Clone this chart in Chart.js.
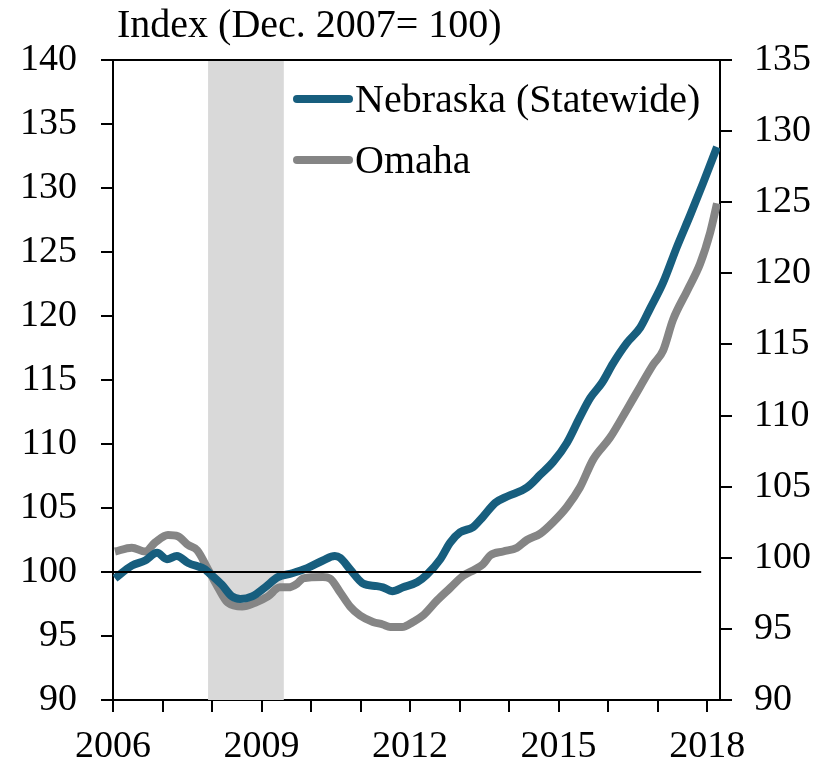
<!DOCTYPE html>
<html>
<head>
<meta charset="utf-8">
<script src="https://cdn.jsdelivr.net/npm/chart.js@4.4.1/dist/chart.umd.min.js"></script>
<style>
  html, body { margin: 0; padding: 0; background: #fff; }
  #wrap { width: 827px; height: 766px; }
</style>
</head>
<body>
<div id="wrap"><canvas id="house_chart" width="827" height="766"></canvas></div>
<script>
// data (decimal year, index Dec. 2007 = 100)
var nebraskaYears = [2006.04, 2006.38, 2006.65, 2006.89, 2007.09, 2007.29, 2007.52, 2007.86, 2007.92, 2008.20, 2008.40, 2008.57, 2008.81, 2009.07, 2009.33, 2009.62, 2009.92, 2010.24, 2010.48, 2010.59, 2010.79, 2011.05, 2011.33, 2011.45, 2011.64, 2011.86, 2012.14, 2012.34, 2012.61, 2012.81, 2013.01, 2013.27, 2013.47, 2013.72, 2013.96, 2014.36, 2014.63, 2014.89, 2015.17, 2015.43, 2015.64, 2015.88, 2016.10, 2016.38, 2016.65, 2016.85, 2017.11, 2017.39, 2017.66, 2017.92, 2018.20]
var nebraskaValues = [99.5, 100.5, 100.9, 101.5, 101.0, 101.25, 100.7, 100.2, 100.0, 99.0, 98.1, 97.9, 98.1, 98.8, 99.6, 99.9, 100.3, 100.9, 101.25, 101.1, 100.2, 99.1, 98.9, 98.8, 98.5, 98.8, 99.2, 99.8, 101.0, 102.3, 103.1, 103.5, 104.3, 105.4, 105.9, 106.6, 107.6, 108.6, 110.1, 112.1, 113.6, 114.8, 116.3, 117.9, 119.1, 120.6, 122.6, 125.4, 127.9, 130.4, 133.2]

var omahaYears = [2006.04, 2006.38, 2006.65, 2006.85, 2007.11, 2007.31, 2007.52, 2007.70, 2007.92, 2008.12, 2008.32, 2008.61, 2008.87, 2009.13, 2009.37, 2009.54, 2009.72, 2009.84, 2010.24, 2010.38, 2010.59, 2010.79, 2010.99, 2011.25, 2011.45, 2011.60, 2011.84, 2012.06, 2012.26, 2012.55, 2012.81, 2013.07, 2013.31, 2013.47, 2013.62, 2013.88, 2014.16, 2014.36, 2014.63, 2014.89, 2015.17, 2015.43, 2015.70, 2016.04, 2016.38, 2016.65, 2016.91, 2017.11, 2017.31, 2017.60, 2017.86, 2018.06, 2018.20]
var omahaValues = [101.6, 101.9, 101.6, 102.3, 102.9, 102.8, 102.1, 101.7, 100.2, 98.8, 97.6, 97.3, 97.6, 98.1, 98.8, 98.8, 99.1, 99.5, 99.6, 99.5, 98.4, 97.3, 96.6, 96.1, 95.9, 95.7, 95.7, 96.1, 96.6, 97.8, 98.75, 99.7, 100.2, 100.6, 101.3, 101.6, 101.9, 102.5, 103.0, 103.9, 105.1, 106.6, 108.8, 110.5, 112.7, 114.5, 116.2, 117.3, 119.7, 122.0, 124.1, 126.5, 128.8]

var baseLine = [100, 100]
var baseLineYears = [2006, 2017.88]
var recession = [2007.92, 2009.45]

var seriesNames = ['Nebraska (Statewide)', 'Omaha']
var axisTitle = 'Index (Dec. 2007= 100)'
var xLabelYears = [2006, 2009, 2012, 2015, 2018]

var blue = '#175e7e'
var gray = '#858585'

function toPoints(xs, ys){
  var pts = []
  for (var i = 0; i < xs.length; i++){
    pts.push({x: xs[i], y: ys[i]})
  }
  return pts
}

Chart.defaults.font.family = "'Liberation Serif', 'Times New Roman', serif"
Chart.defaults.font.size = 38
Chart.defaults.color = '#000'

// recession shade, frame, title and legend
var decorPlugin = {
  id: 'decor',
  beforeDatasetsDraw: function(chart){
    var ctx = chart.ctx
    var area = chart.chartArea
    var x = chart.scales.x
    var x0 = x.getPixelForValue(recession[0])
    var x1 = x.getPixelForValue(recession[1])
    ctx.save()
    ctx.fillStyle = '#d9d9d9'
    ctx.fillRect(x0, area.top, x1 - x0, area.bottom - area.top)
    ctx.restore()
  },
  afterDraw: function(chart){
    var ctx = chart.ctx
    var area = chart.chartArea
    ctx.save()
    ctx.strokeStyle = '#000'
    ctx.lineWidth = 2
    ctx.beginPath()
    ctx.moveTo(area.left - 1, area.top)
    ctx.lineTo(area.right + 1, area.top)
    ctx.stroke()

    ctx.fillStyle = '#000'
    ctx.font = "40px 'Liberation Serif', serif"
    ctx.textBaseline = 'alphabetic'
    ctx.fillText(axisTitle, 117, 37)

    var colors = [blue, gray]
    var rows = [99, 160]
    for (var i = 0; i < seriesNames.length; i++){
      ctx.strokeStyle = colors[i]
      ctx.lineWidth = 8
      ctx.lineCap = 'round'
      ctx.beginPath()
      ctx.moveTo(297, rows[i])
      ctx.lineTo(349, rows[i])
      ctx.stroke()
      ctx.fillText(seriesNames[i], 355, rows[i] + 13)
    }
    ctx.restore()
  }
}

var house_canvas = document.getElementById('house_chart')
var house_chart = new Chart(house_canvas.getContext('2d'), {
  type: 'line',
  data: {
    datasets: [{
      label: 'base',
      data: toPoints(baseLineYears, baseLine),
      borderColor: '#000',
      borderWidth: 2,
      pointRadius: 0,
      yAxisID: 'y'
    }, {
      label: seriesNames[0],
      data: toPoints(nebraskaYears, nebraskaValues),
      borderColor: blue,
      borderWidth: 8,
      pointRadius: 0,
      cubicInterpolationMode: 'monotone',
      yAxisID: 'y'
    }, {
      label: seriesNames[1],
      data: toPoints(omahaYears, omahaValues),
      borderColor: gray,
      borderWidth: 8,
      pointRadius: 0,
      cubicInterpolationMode: 'monotone',
      yAxisID: 'y'
    }]
  },
  options: {
    responsive: false,
    animation: false,
    layout: { padding: { top: 60, left: 0, right: 0, bottom: 0 } },
    plugins: {
      legend: { display: false },
      tooltip: { enabled: false }
    },
    scales: {
      x: {
        type: 'linear',
        min: 2006,
        max: 2018.26,
        grid: { drawOnChartArea: false, tickLength: 12, color: '#000', lineWidth: 2 },
        border: { color: '#000', width: 2 },
        ticks: {
          stepSize: 1,
          autoSkip: false,
          includeBounds: false,
          maxRotation: 0,
          padding: 12,
          callback: function(v){ return xLabelYears.indexOf(v) >= 0 ? String(v) : '' }
        },
        afterFit: function(scale){ scale.height = 66 }
      },
      y: {
        position: 'left',
        min: 90,
        max: 140,
        grid: { drawOnChartArea: false, tickLength: 12, color: '#000', lineWidth: 2 },
        border: { color: '#000', width: 2 },
        ticks: { stepSize: 5, padding: 24 },
        afterFit: function(scale){ scale.width = 113 }
      },
      y1: {
        position: 'right',
        min: 90,
        max: 135,
        grid: { drawOnChartArea: false, tickLength: 12, color: '#000', lineWidth: 2 },
        border: { color: '#000', width: 2 },
        ticks: { stepSize: 5, padding: 22 },
        afterFit: function(scale){ scale.width = 107 }
      }
    }
  },
  plugins: [decorPlugin]
})
</script>
</body>
</html>
